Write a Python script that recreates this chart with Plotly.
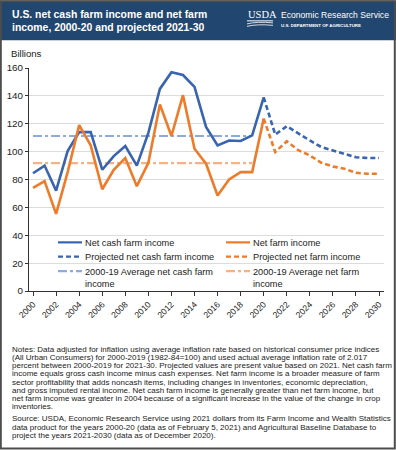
import plotly.graph_objects as go

# ---------------- data ----------------
years_hist = list(range(2000, 2021))
net_cash_hist = [84.5, 90, 72, 100.4, 114, 114, 87, 96.8, 104, 90, 113.5, 145, 157, 155, 146.5,
                 117.7, 104.5, 108, 107.6, 111.7, 138.9]
net_farm_hist = [74, 78.8, 55.3, 85.3, 119, 104.5, 73, 87, 95.4, 75.2, 92, 133.8, 111.2, 140.5, 102.1,
                 91.3, 68.5, 80, 85.3, 85.3, 123.7]

years_proj = list(range(2020, 2031))
net_cash_proj = [138.9, 112.2, 118.2, 113, 108, 103.3, 100.9, 98.5, 96, 95.4, 95.4]
net_farm_proj = [123.7, 99.7, 107.4, 101, 97.3, 92, 89.4, 87.7, 84.8, 84.1, 84.1]

avg_years = [2000, 2019]
avg_net_cash = [111.2, 111.2]
avg_net_farm = [91.8, 91.8]

tick_years = list(range(2000, 2031, 2))
y_ticks = [0, 20, 40, 60, 80, 100, 120, 140, 160]

series_names = ["Net cash farm income", "Net farm income",
                "Projected net cash farm income", "Projected net farm income",
                "2000-19 Average net cash farm<br>income", "2000-19 Average net farm<br>income"]

title_lines = ["U.S. net cash farm income and net farm",
               "income, 2000-20 and projected 2021-30"]
notes_lines = [
    "Notes: Data adjusted for inflation using average inflation rate based on historical consumer price indices",
    "(All Urban Consumers) for 2000-2019 (1982-84=100) and used actual average inflation rate of 2.017",
    "percent between 2000-2019 for 2021-30. Projected values are present value based on 2021. Net cash farm",
    "income equals gross cash income minus cash expenses. Net farm income is a broader measure of farm",
    "sector profitability that adds noncash items, including changes in inventories, economic depreciation,",
    "and gross imputed rental income. Net cash farm income is generally greater than net farm income, but",
    "net farm income was greater in 2004 because of a significant increase in the value of the change in crop",
    "inventories.",
]
source_lines = [
    "Source: USDA, Economic Research Service using 2021 dollars from its Farm Income and Wealth Statistics",
    "data product for the years 2000-20 (data as of February 5, 2021) and Agricultural Baseline Database to",
    "project the years 2021-2030 (data as of December 2020).",
]

# ---------------- styles ----------------
BLUE = "#3864b0"
ORANGE = "#ee7b2a"
LBLUE = "#8eaadb"
LORANGE = "#f7b183"
W, H = 396, 450
L, R, T, B = 29, 384, 67.7, 291.0
FONT = "Liberation Sans, Arial, sans-serif"


def px(x):
    return (x - L) / (R - L)


def py(y):
    return (B - y) / (B - T)


fig = go.Figure()
styles = [
    dict(color=BLUE, width=2.6),
    dict(color=ORANGE, width=2.6),
    dict(color=BLUE, width=2.6, dash="5px,3px"),
    dict(color=ORANGE, width=2.6, dash="5px,3px"),
    dict(color=LBLUE, width=2.2, dash="9px,3px,3px,3px"),
    dict(color=LORANGE, width=2.2, dash="9px,3px,3px,3px"),
]
traces = [
    (years_hist, net_cash_hist),
    (years_hist, net_farm_hist),
    (years_proj, net_cash_proj),
    (years_proj, net_farm_proj),
    (avg_years, avg_net_cash),
    (avg_years, avg_net_farm),
]
order = [4, 5, 0, 1, 2, 3]
for i in order:
    xs, ys = traces[i]
    fig.add_trace(go.Scatter(x=xs, y=ys, mode="lines", name=series_names[i].replace("<br>", " "),
                             line=styles[i], showlegend=False, hoverinfo="skip"))

shapes = []
annotations = []

# header band
shapes.append(dict(type="rect", xref="paper", yref="paper", x0=px(0), x1=px(W), y0=py(0), y1=py(40),
                   fillcolor="#21466f", line=dict(width=0), layer="below"))
# frame
shapes.append(dict(type="rect", xref="paper", yref="paper", x0=px(0.8), x1=px(W - 1.2), y0=py(0.8), y1=py(H - 1.2),
                   fillcolor="rgba(0,0,0,0)", line=dict(color="#4d4d4d", width=2)))

for k, line in enumerate(title_lines):
    annotations.append(dict(text="<b>" + line + "</b>", xref="paper", yref="paper", x=px(9.5), y=py(14 + 13 * k),
                            xanchor="left", yanchor="middle", showarrow=False, align="left",
                            font=dict(family=FONT, size=10.4, color="white")))
# logo
annotations.append(dict(text="USDA", xref="paper", yref="paper", x=px(246), y=py(14.5),
                        xanchor="left", yanchor="middle", showarrow=False,
                        font=dict(family="Liberation Serif, Times New Roman, serif", size=10.5, color="white")))
shapes.append(dict(type="line", xref="paper", yref="paper", x0=px(247), x1=px(273), y0=py(20.5), y1=py(20.5),
                   line=dict(color="white", width=1)))
for k, yy in enumerate([23.5, 26]):
    shapes.append(dict(type="path", xref="paper", yref="paper",
                       path=f"M {px(247)},{py(yy)} Q {px(257)},{py(yy - 2.5)} {px(273)},{py(yy - 1)}",
                       line=dict(color="white", width=0.8)))
annotations.append(dict(text="Economic Research Service", xref="paper", yref="paper", x=px(278.5), y=py(15),
                        xanchor="left", yanchor="middle", showarrow=False,
                        font=dict(family=FONT, size=8.6, color="white")))
annotations.append(dict(text="<b>U.S. DEPARTMENT OF AGRICULTURE</b>", xref="paper", yref="paper", x=px(279), y=py(25.5),
                        xanchor="left", yanchor="middle", showarrow=False,
                        font=dict(family=FONT, size=4.4, color="white")))

annotations.append(dict(text="Billions", xref="paper", yref="paper", x=px(9), y=py(53),
                        xanchor="left", yanchor="middle", showarrow=False,
                        font=dict(family=FONT, size=9.6, color="#222")))

# legend (manual, two columns)
leg_pos = [(58, 242.3), (226, 242.3), (58, 256.5), (226, 256.5), (58, 271), (226, 271)]
for (lx, ly), i in zip(leg_pos, range(6)):
    st = styles[i]
    shapes.append(dict(type="line", xref="paper", yref="paper", x0=px(lx), x1=px(lx + 24), y0=py(ly), y1=py(ly),
                       line=dict(color=st["color"], width=2.2, dash=st.get("dash", "solid"))))
    annotations.append(dict(text=series_names[i], xref="paper", yref="paper", x=px(lx + 25), y=py(ly - 6.5),
                            xanchor="left", yanchor="top", showarrow=False, align="left",
                            font=dict(family=FONT, size=9.2, color="#222")))

# notes
for k, line in enumerate(notes_lines):
    annotations.append(dict(text=line, xref="paper", yref="paper", x=px(9.5), y=py(349.5 + 8.2 * k),
                            xanchor="left", yanchor="middle", showarrow=False,
                            font=dict(family=FONT, size=8.0, color="#222")))
for k, line in enumerate(source_lines):
    annotations.append(dict(text=line, xref="paper", yref="paper", x=px(9.5), y=py(419 + 8.2 * k),
                            xanchor="left", yanchor="middle", showarrow=False,
                            font=dict(family=FONT, size=8.0, color="#222")))

fig.update_layout(
    width=W, height=H,
    margin=dict(l=L, r=W - R, t=T, b=H - B, pad=0),
    paper_bgcolor="white", plot_bgcolor="white",
    shapes=shapes, annotations=annotations,
    showlegend=False, hovermode=False,
    xaxis=dict(range=[1999.65, 2030.43], tickmode="array", tickvals=tick_years,
               ticktext=[str(y) for y in tick_years], tickangle=-45, automargin=False,
               showgrid=False, zeroline=False, showline=True, linecolor="#333", linewidth=1,
               ticks="outside", ticklen=4, tickcolor="#333",
               tickfont=dict(family=FONT, size=8.6, color="#222")),
    yaxis=dict(range=[0, 160], tickmode="array", tickvals=y_ticks, automargin=False,
               showgrid=True, gridcolor="#dcdcdc", gridwidth=1, zeroline=False,
               showline=True, linecolor="#333", linewidth=1,
               ticks="outside", ticklen=3, tickcolor="#333",
               tickfont=dict(family=FONT, size=9.8, color="#222")),
)

fig.write_html("out.html", config={"displayModeBar": False, "staticPlot": True},
               post_script="document.body.style.margin='0px';document.body.style.overflow='hidden';")
